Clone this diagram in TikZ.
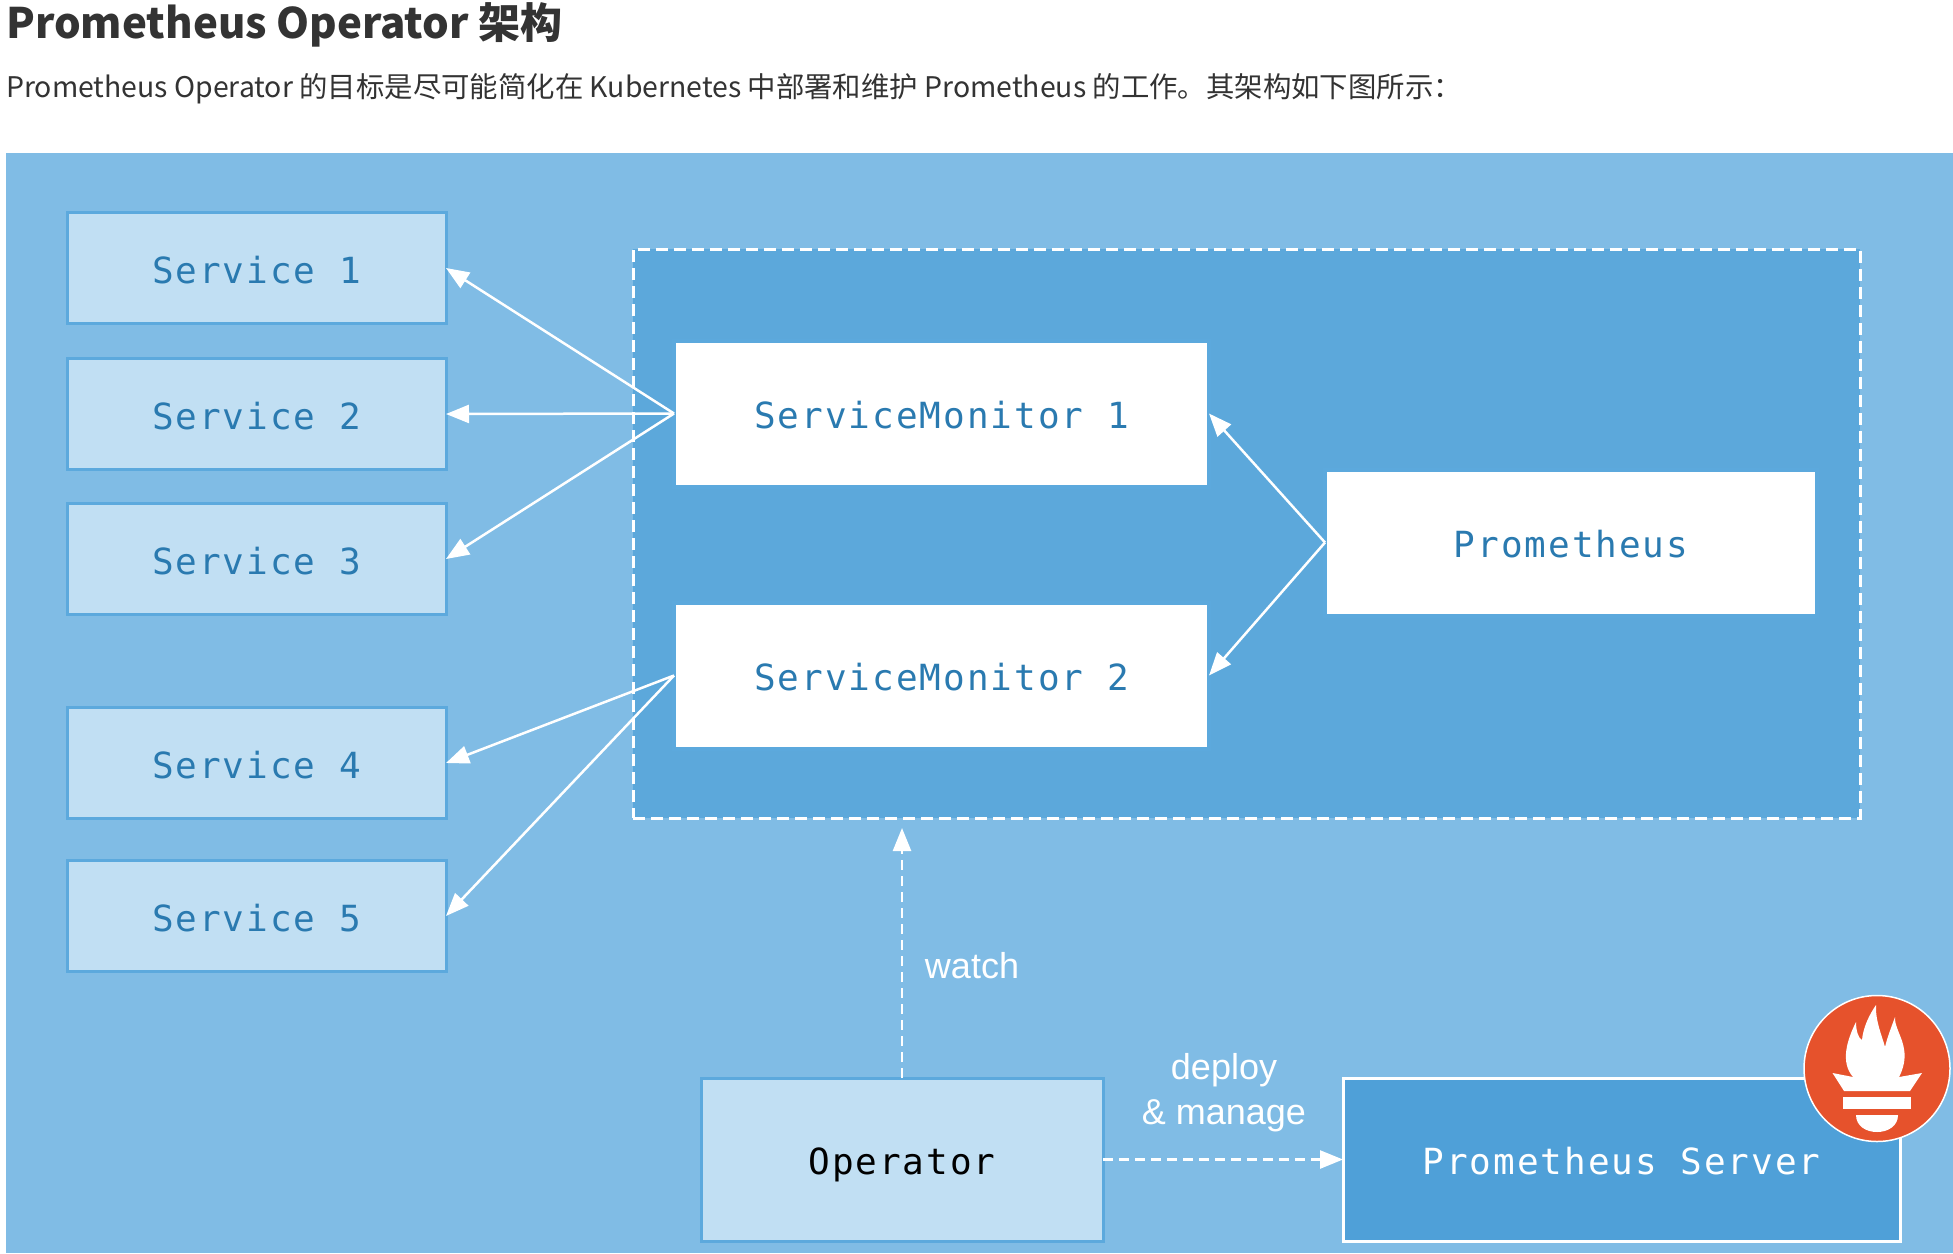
\documentclass[tikz,border=0pt]{standalone}
\usepackage{fontspec}
\setmainfont{Noto Sans CJK SC}
\newfontfamily\monolabel[LetterSpace=5.5]{DejaVu Sans Mono}
\newfontfamily\arrowlabel{Liberation Sans}
\usetikzlibrary{positioning,arrows.meta}
\definecolor{bgblue}{RGB}{128,188,229}
\definecolor{groupblue}{RGB}{92,168,219}
\definecolor{lightblue}{RGB}{193,223,243}
\definecolor{edgeblue}{RGB}{92,169,221}
\definecolor{textblue}{RGB}{42,122,176}
\definecolor{serverblue}{RGB}{79,160,216}
\definecolor{flameorange}{RGB}{230,82,44}
\definecolor{headgray}{RGB}{51,51,51}

\begin{document}
\begin{tikzpicture}[x=1pt,y=-1pt,
    box/.style={rectangle,outer sep=0pt,inner sep=0pt,align=center,text height=36pt,text depth=6pt,font=\monolabel\fontsize{36}{42}\selectfont},
    svc/.style={box,draw=edgeblue,line width=3pt,fill=lightblue,text=textblue,minimum width=379pt,minimum height=111pt},
    mon/.style={box,draw=edgeblue,line width=4pt,fill=white,text=textblue,minimum width=535pt,minimum height=146pt},
    lbl/.style={text=white,align=center,inner sep=0pt,font=\arrowlabel\fontsize{36}{45}\selectfont},
    link/.style={draw=white,line width=2.5pt,-{Triangle[length=23pt,width=18pt]}},
    dlink/.style={link,dash pattern=on 10pt off 6pt}]
  \useasboundingbox (0,0) rectangle (1953,1253);
  \fill[white] (0,0) rectangle (1953,1253);
  \fill[bgblue] (6,153) rectangle (1953,1253);

  \node[anchor=west,inner sep=0pt,text=headgray,font=\fontsize{42}{50}\selectfont\bfseries] (title) at (6,25) {Prometheus Operator 架构};
  \node[anchor=west,inner sep=0pt,text=headgray,font=\fontsize{28.4}{34}\selectfont] (intro) at (6,89) {Prometheus Operator 的目标是尽可能简化在 Kubernetes 中部署和维护 Prometheus 的工作。其架构如下图所示：};

  \node[draw=white,line width=3pt,dash pattern=on 12pt off 6pt,fill=groupblue,outer sep=0pt,minimum width=1227pt,minimum height=569pt] (group) at (1246.5,533.5) {};

  \node[svc] (s1) at (256.5,268) {Service 1};
  \node[svc,below=35pt] (s2) at (s1.south) {Service 2};
  \node[svc,below=34pt] (s3) at (s2.south) {Service 3};
  \node[svc,below=93pt] (s4) at (s3.south) {Service 4};
  \node[svc,below=42pt] (s5) at (s4.south) {Service 5};

  \node[mon] (sm1) at (941.5,413.5) {ServiceMonitor 1};
  \node[mon] (sm2) at (941.5,675.5) {ServiceMonitor 2};
  \node[mon,minimum width=492pt] (pm) at (1571,542.5) {Prometheus};

  \node[svc,text=black,minimum width=402pt,minimum height=163pt] (op) at (902,1159.5) {Operator};
  \node[box,draw=white,line width=3pt,fill=serverblue,text=white,minimum width=557pt,minimum height=163pt] (ps) at (1621.5,1159.5) {Prometheus Server};

  \draw[link] (sm1.west) -- (s1.east);
  \draw[link] (sm1.west) -- (s2.east);
  \draw[link] (sm1.west) -- (s3.east);
  \draw[link] (sm2.west) -- (s4.east);
  \draw[link] (sm2.west) -- (s5.east);
  \draw[link] (pm.west) -- (sm1.east);
  \draw[link] (pm.west) -- (sm2.east);

  \coordinate (groupin) at (op.north |- 0,828);
  \draw[dlink] (op.north) -- (groupin);
  \draw[dlink] (op.east) -- (ps.west);
  \node[lbl] (watch) at (972,966) {watch};
  \node[lbl] (deploy) at (1224,1093) {deploy\\\& manage};

  % logo
  \fill[flameorange,draw=white,line width=1.5pt] (1877,1068.5) circle (73);
  \fill[white] (1853,1077) .. controls (1840,1062) and (1847,1040) .. (1856,1022)
    .. controls (1856,1030) and (1858,1038) .. (1862,1040)
    .. controls (1863,1028) and (1869,1015) .. (1876,1005)
    .. controls (1875,1020) and (1882,1036) .. (1885,1047)
    .. controls (1887,1038) and (1891,1028) .. (1895,1017)
    .. controls (1894,1032) and (1914,1048) .. (1899,1077) -- cycle;
  \fill[white] (1832.5,1073) -- (1853,1077) -- (1899,1077) -- (1922,1073) -- (1910,1091) -- (1844,1091) -- cycle;
  \fill[white] (1842.5,1097) rectangle (1911,1109);
  \fill[white] (1856,1115) -- (1898,1115) .. controls (1898,1126) and (1888,1132) .. (1877,1132)
    .. controls (1866,1132) and (1856,1126) .. (1856,1115) -- cycle;
\end{tikzpicture}
\end{document}
